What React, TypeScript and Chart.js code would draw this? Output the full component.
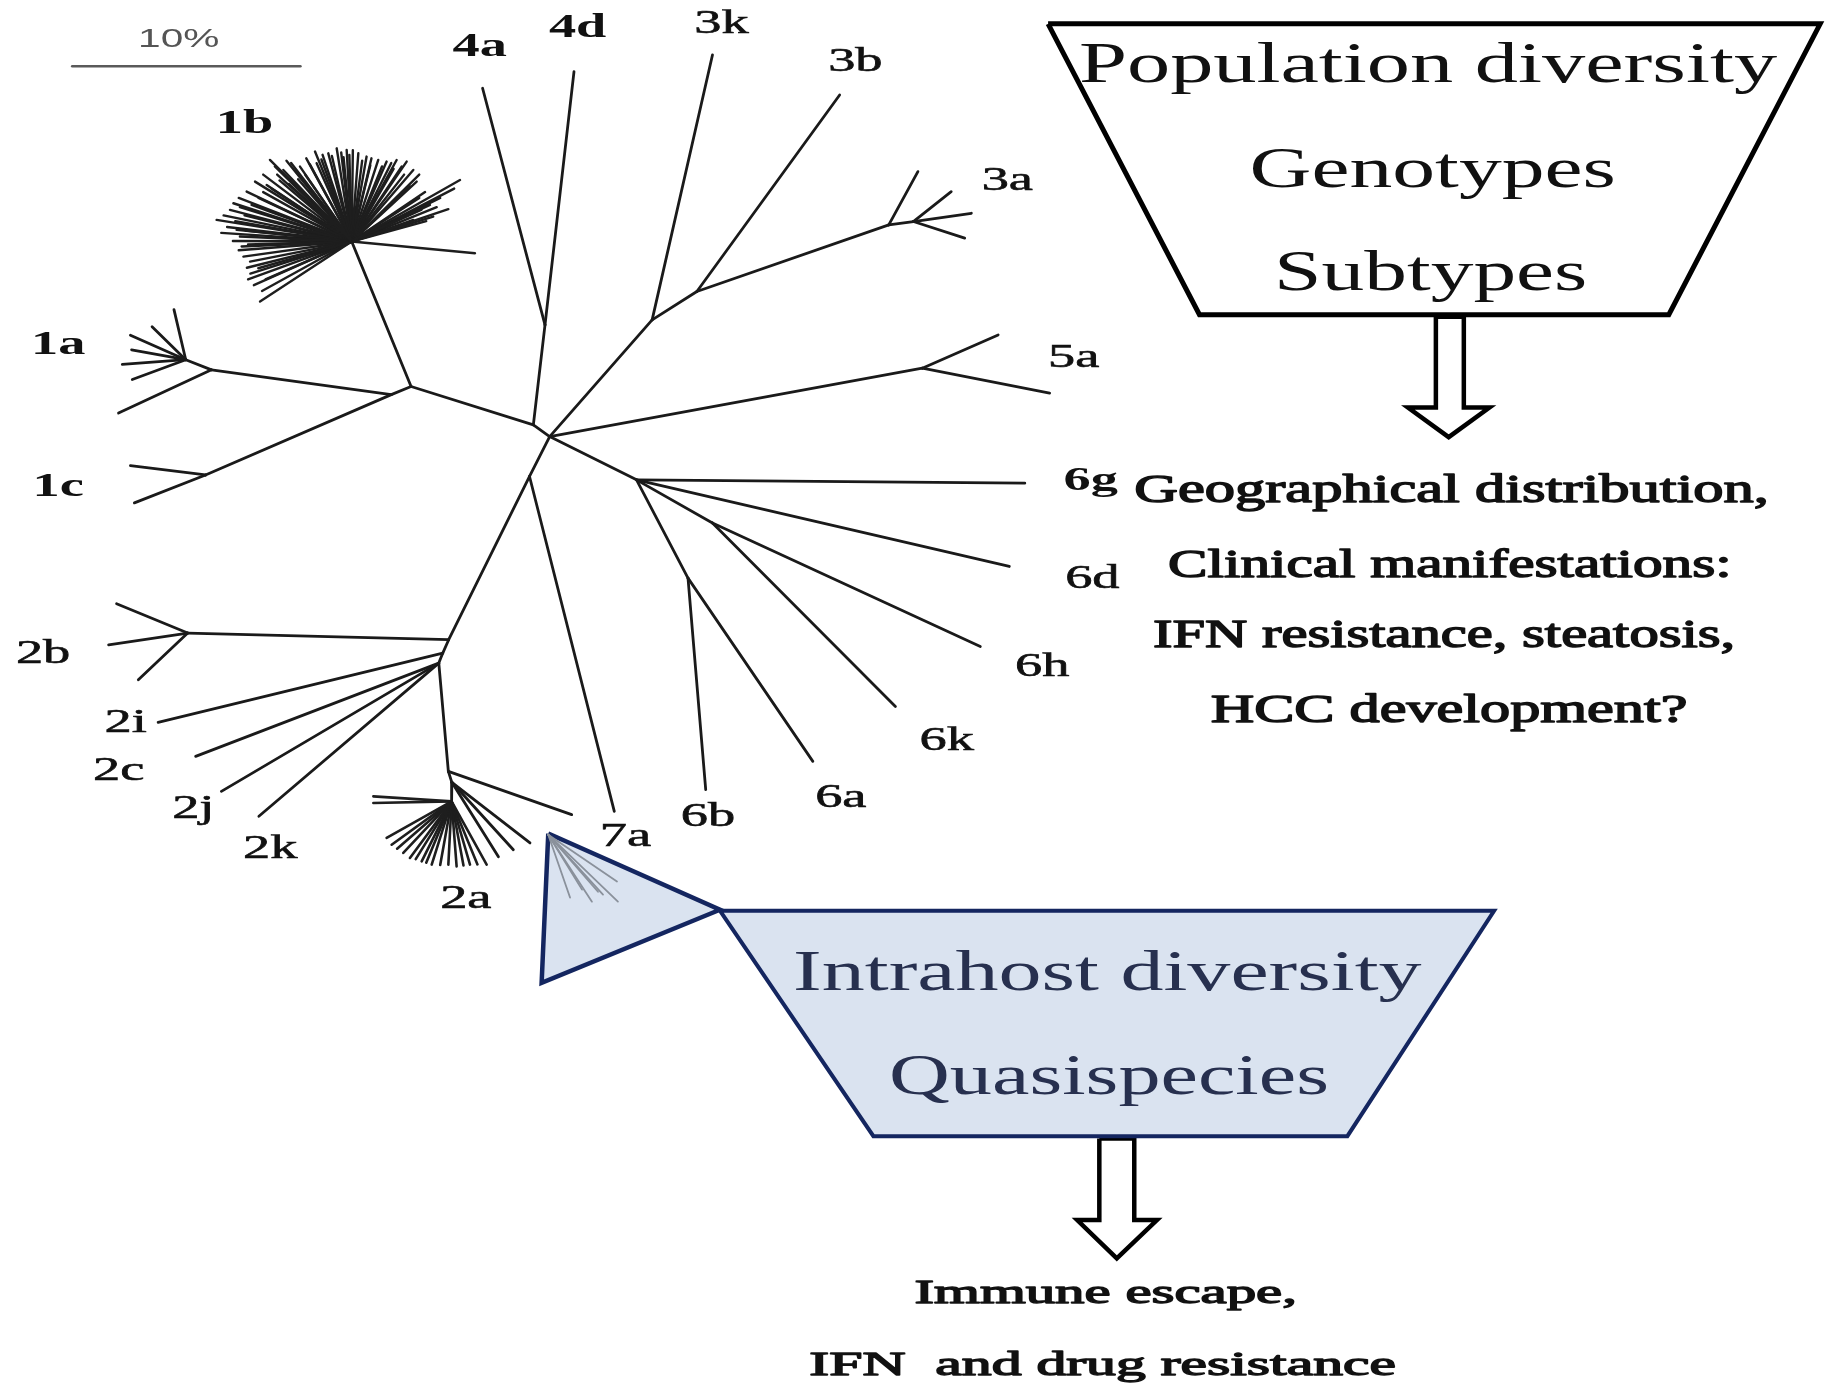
import React, { useEffect, useRef } from 'react';
import { Chart, registerables } from 'chart.js';

Chart.register(...registerables);

// Data space: the reference picture measured in units of a 1568 x 1194 frame
const X_MAX = 1568;
const Y_MAX = 1194;

// ---------- Tree: internal nodes ----------
const treeNodes: [string, number, number][] = [
  ['A', 458, 365], ['H', 472, 375], ['B', 353, 332], ['C', 336, 339],
  ['N1b', 302, 207.5], ['N1a', 181.6, 317.7], ['N1a2', 159.5, 309], ['N1c', 176.5, 408],
  ['N4', 468, 279], ['N3', 560, 274.8], ['N3b', 598.4, 250.4], ['N3a', 763.2, 193.2], ['N3a2', 784.3, 190.3],
  ['N5', 792, 316.3], ['N6', 546.6, 412.2], ['N6hk', 611.8, 449.3], ['N6ab', 590.8, 496.6],
  ['D', 454.7, 409.3], ['E', 385.3, 549.5], ['N2b', 161.2, 543.8], ['E2', 380.2, 561], ['F', 376.8, 569.6],
  ['G', 385, 662.6], ['G2', 388, 672], ['N2a', 387.8, 688.4],
];

const treeEdges: [string, string][] = [
  ['A', 'H'], ['A', 'B'], ['B', 'C'], ['B', 'N1b'], ['C', 'N1a'], ['N1a', 'N1a2'], ['C', 'N1c'],
  ['A', 'N4'], ['H', 'N3'], ['N3', 'N3b'], ['N3b', 'N3a'], ['N3a', 'N3a2'], ['H', 'N5'],
  ['H', 'N6'], ['N6', 'N6hk'], ['N6', 'N6ab'], ['H', 'D'], ['D', 'E'], ['E', 'N2b'], ['E', 'E2'],
  ['E2', 'F'], ['F', 'G'], ['G', 'G2'], ['G2', 'N2a'],
];

// ---------- Tree: leaf tips (parent, x, y) ----------
const leafTips: [string, number, number][] = [
  ['N4', 414.4, 75.8], ['N4', 492.9, 61.5],
  ['N3', 611.8, 47.2], ['N3b', 721, 81.6], ['N3a', 788.2, 147.4],
  ['N3a2', 816.8, 164.6], ['N3a2', 834.1, 183.2], ['N3a2', 828.4, 204.6],
  ['N5', 857.1, 287.7], ['N5', 901.3, 337.7],
  ['N6', 880, 415], ['N6', 866.7, 486.6], ['N6hk', 841.8, 555.3], ['N6hk', 768.9, 606.8],
  ['N6ab', 698, 654], ['N6ab', 606, 678.3],
  ['D', 527.5, 697],
  ['N2b', 100.1, 518.6], ['N2b', 93.3, 553.9], ['N2b', 118.8, 583.9],
  ['E2', 135.8, 620.5], ['F', 168, 649.7], ['F', 190.1, 679.8], ['F', 222.3, 701.2],
  ['G', 490.9, 699.8], ['G2', 455.1, 724.1], ['G2', 440.8, 729.9], ['G2', 428, 736],
  ['N1a', 101.8, 354.8],
  ['N1a2', 149.4, 266], ['N1a2', 130.6, 280.6], ['N1a2', 112, 288], ['N1a2', 113, 300.5],
  ['N1a2', 105, 313], ['N1a2', 113.6, 326],
  ['N1c', 112, 400], ['N1c', 115.4, 432],
];

// genotype 1b cluster tips (from node N1b)
const tips1b: [number, number][] = [
  [231.8, 137.4], [243.3, 146], [257.6, 143.1], [270.5, 130.2], [271.9, 140.2], [281.9, 131.7],
  [289.1, 127.4], [297.7, 128.8], [307.7, 131.7], [314.8, 134.5], [324.8, 137.4], [332, 138.8],
  [340.6, 137.4], [349.2, 138.8], [354.9, 146], [357.8, 156], [395, 154.6], [369.2, 176],
  [385, 179.7], [372, 186], [354.9, 188.9], [407.9, 217.5], [223.3, 259], [221.8, 230.4],
  [214.7, 224.7], [209, 220.4], [207.5, 211.8], [206, 203.2], [203.2, 197.5], [186, 188.9],
  [197.5, 180.3], [200.4, 174.6], [211.8, 164.6], [219, 156], [229, 158.9],
  [226, 150], [236, 143], [250, 140], [263, 136], [277, 133], [293, 131], [303, 129],
  [319, 136], [336, 140], [345, 143], [360, 150], [365, 165], [378, 170], [390, 162],
  [362, 180], [215, 235], [218, 245], [228, 240], [205, 215], [195, 195], [210, 185],
  [205, 170], [222, 170], [240, 155], [262, 150],
  [238, 150], [246, 138], [254, 147], [266, 141], [276, 137], [285, 134], [295, 135],
  [300, 133], [311, 138], [318, 142], [328, 143], [338, 145], [347, 150], [352, 160],
  [360, 170], [375, 178], [366, 190], [212, 230], [213, 210], [211, 198], [202, 190],
  [192, 185], [206, 178], [216, 176], [226, 165], [233, 162], [248, 158], [256, 154],
  [213, 240], [225, 250], [200, 207], [190, 200],
];

// genotype 2a cluster tips (from node N2a)
const tips2a: [number, number][] = [
  [320.6, 684.1], [320.6, 689.8], [332, 719.8], [336.3, 725.6], [341, 729], [346.3, 732.7],
  [352, 737], [357, 738], [362.1, 739.9], [366, 741], [370.7, 742.7], [378, 743], [385, 742.7],
  [392.1, 744.2], [398, 743.5], [403.6, 742.7], [410, 742.5], [417.9, 742.7],
];

// quasispecies fan inside the triangle
const quasiRoot: [number, number] = [470.8, 717];
const quasiTips: [number, number][] = [
  [489.5, 771], [499.8, 764.2], [508.3, 774.5], [513.5, 766], [517.8, 768.5], [529.8, 757.3], [530.6, 774.5],
];

// ---------- Shapes ----------
const scaleBar: [number, number][] = [[62, 57], [258, 57]];
const popTrapezoid: [number, number][] = [[900, 20.5], [1563, 20.5], [1433, 270.3], [1030, 270.3]];
const popArrow: [number, number][] = [[1233, 272], [1257, 272], [1257, 350], [1279, 350], [1244, 375.5], [1209, 350], [1233, 350]];
const intraTriangle: [number, number][] = [[470.8, 716], [618.2, 781.5], [465.1, 844.3]];
const intraTrapezoid: [number, number][] = [[618.2, 782.3], [1283, 782.3], [1157, 976], [750, 976]];
const intraArrow: [number, number][] = [[944, 978], [974, 978], [974, 1048], [993.5, 1048], [959, 1081], [925, 1048], [944, 1048]];

// ---------- Texts ----------
const subtypeLabels = ['1b', '1a', '1c', '4a', '4d', '3k', '3b', '3a', '5a', '6g', '6d', '6h', '6k', '6a', '6b', '7a', '2a', '2k', '2j', '2c', '2i', '2b'];
const boldLabels = ['1b', '1a', '1c', '4a', '4d', '6g'];
const scaleLabel = '10%';
const popTitle = ['Population diversity', 'Genotypes', 'Subtypes'];
const popNotes = ['Geographical distribution,', 'Clinical manifestations:', 'IFN resistance, steatosis,', 'HCC development?'];
const intraTitle = ['Intrahost diversity', 'Quasispecies'];
const intraNotes = ['Immune escape,', 'IFN  and drug resistance'];

// layout of texts (reference-frame units)
const labelCenters: Record<string, [number, number]> = {
  '1b': [210, 104.5], '1a': [50, 294], '1c': [50, 416], '4a': [412, 38], '4d': [496, 22],
  '3k': [619.5, 18.6], '3b': [734.5, 51], '3a': [865, 153], '5a': [922, 305.5], '6g': [936.6, 411],
  '6d': [938, 495], '6h': [895, 571], '6k': [813, 634], '6a': [722, 683], '6b': [608, 700],
  '7a': [537, 717], '2a': [400, 770], '2k': [232, 727], '2j': [166, 693], '2c': [102, 660],
  '2i': [108, 619], '2b': [37, 560],
};
// [left, right, baseline]
const popTitleBox: [number, number, number][] = [[926.5, 1526, 70.8], [1073, 1387.6, 161], [1094, 1363, 249]];
const popNotesBox: [number, number, number][] = [[974, 1519, 431.5], [1003, 1487, 495.9], [990, 1490, 556], [1039.6, 1449, 620.4]];
const intraTitleBox: [number, number, number][] = [[681, 1220.7, 850], [763.4, 1141.2, 940]];
const intraNotesBox: [number, number, number][] = [[785.3, 1113.7, 1119], [695, 1198.7, 1180.7]];
const scaleLabelBox: [number, number, number] = [118.6, 188.4, 40];

const SERIF = '"Liberation Serif", "DejaVu Serif", serif';
const SANS = '"Liberation Sans", "DejaVu Sans", sans-serif';

const pt = (p: [number, number]) => ({ x: p[0], y: p[1] });

function seg(p: [number, number], q: [number, number], color: string, width: number) {
  return {
    data: [pt(p), pt(q)],
    showLine: true,
    borderColor: color,
    borderWidth: width,
    borderCapStyle: 'round',
    pointRadius: 0,
    pointHoverRadius: 0,
    fill: false,
    tension: 0,
    order: 1,
  };
}

function polygon(points: [number, number][], fillColor: string, lineColor: string, width: number, order: number) {
  const data = points.map(pt);
  data.push(pt(points[0]));
  return {
    data,
    showLine: true,
    borderColor: lineColor,
    backgroundColor: fillColor,
    borderWidth: width,
    borderJoinStyle: 'miter',
    pointRadius: 0,
    pointHoverRadius: 0,
    fill: 'shape',
    tension: 0,
    order,
  };
}

function buildDatasets() {
  const nodeMap: Record<string, [number, number]> = {};
  treeNodes.forEach(([n, x, y]) => { nodeMap[n] = [x, y]; });
  const ds: any[] = [];
  const TREE = '#1a1a1a';
  treeEdges.forEach(([a, b]) => ds.push(seg(nodeMap[a], nodeMap[b], TREE, 2.8)));
  leafTips.forEach(([p, x, y]) => ds.push(seg(nodeMap[p], [x, y], TREE, 2.8)));
  tips1b.forEach((t) => ds.push(seg(nodeMap['N1b'], t, '#1e1e1e', 2.4)));
  tips2a.forEach((t) => ds.push(seg(nodeMap['N2a'], t, '#1e1e1e', 2.6)));
  quasiTips.forEach((t) => ds.push({ ...seg(quasiRoot, t, '#8a919b', 1.8), order: 0 }));
  ds.push(seg(scaleBar[0], scaleBar[1], '#5a5a5a', 2.5));
  ds.push(polygon(popTrapezoid, '#ffffff', '#000000', 5, 3));
  ds.push(polygon(popArrow, '#ffffff', '#000000', 4.5, 3));
  ds.push(polygon(intraTrapezoid, '#dae3f0', '#142660', 4, 3));
  ds.push(polygon(intraTriangle, '#dae3f0', '#142660', 4.5, 2));
  ds.push(polygon(intraArrow, '#ffffff', '#000000', 4.5, 3));
  return ds;
}

const textPlugin = {
  id: 'figureTexts',
  afterDatasetsDraw(chart: any) {
    const ctx: CanvasRenderingContext2D = chart.ctx;
    const xs = chart.scales.x;
    const ys = chart.scales.y;
    const fit = (text: string, box: [number, number, number], font: string, color: string, stroke = 0) => {
      const x0 = xs.getPixelForValue(box[0]);
      const x1 = xs.getPixelForValue(box[1]);
      const yb = ys.getPixelForValue(box[2]);
      ctx.save();
      ctx.font = font;
      const w = ctx.measureText(text).width;
      ctx.translate(x0, yb);
      ctx.scale((x1 - x0) / w, 1);
      ctx.fillStyle = color;
      ctx.textAlign = 'left';
      ctx.textBaseline = 'alphabetic';
      ctx.fillText(text, 0, 0);
      if (stroke > 0) {
        ctx.strokeStyle = color;
        ctx.lineWidth = stroke;
        ctx.lineJoin = 'round';
        ctx.strokeText(text, 0, 0);
      }
      ctx.restore();
    };
    // subtype labels
    subtypeLabels.forEach((lab) => {
      const c = labelCenters[lab];
      if (!c) return;
      const px = xs.getPixelForValue(c[0]);
      const py = ys.getPixelForValue(c[1]);
      ctx.save();
      ctx.font = (boldLabels.includes(lab) ? 'bold ' : '') + '34px ' + SERIF;
      ctx.translate(px, py + 11.5);
      ctx.scale(1.6, 1);
      ctx.fillStyle = '#111111';
      ctx.textAlign = 'center';
      ctx.textBaseline = 'alphabetic';
      ctx.fillText(lab, 0, 0);
      if (!boldLabels.includes(lab)) {
        ctx.strokeStyle = '#111111';
        ctx.lineWidth = 0.6;
        ctx.strokeText(lab, 0, 0);
      }
      ctx.restore();
    });
    fit(scaleLabel, scaleLabelBox, '26px ' + SANS, '#555555');
    popTitle.forEach((t, i) => fit(t, popTitleBox[i], '58px ' + SERIF, '#111111'));
    popNotes.forEach((t, i) => fit(t, popNotesBox[i], '40px ' + SERIF, '#111111', 1.4));
    intraTitle.forEach((t, i) => fit(t, intraTitleBox[i], '56px ' + SERIF, '#27304f'));
    intraNotes.forEach((t, i) => fit(t, intraNotesBox[i], '33px ' + SERIF, '#111111', 1.3));
  },
};

export default function App() {
  const canvasRef = useRef<HTMLCanvasElement | null>(null);
  useEffect(() => {
    document.body.style.margin = '0';
    const canvas = canvasRef.current;
    if (!canvas) return;
    const chart = new Chart(canvas, {
      type: 'scatter',
      data: { datasets: buildDatasets() },
      options: {
        animation: false,
        responsive: false,
        devicePixelRatio: 1,
        layout: { padding: 0 },
        events: [],
        plugins: {
          legend: { display: false },
          tooltip: { enabled: false },
          title: { display: false },
        },
        scales: {
          x: { type: 'linear', min: 0, max: X_MAX, display: false },
          y: { type: 'linear', min: 0, max: Y_MAX, reverse: true, display: false },
        },
      } as any,
      plugins: [textPlugin],
    } as any);
    return () => chart.destroy();
  }, []);
  return (
    <div style={{ width: 1826, height: 1390, background: '#ffffff' }}>
      <canvas ref={canvasRef} width={1826} height={1390} style={{ display: 'block', width: 1826, height: 1390 }} />
    </div>
  );
}
